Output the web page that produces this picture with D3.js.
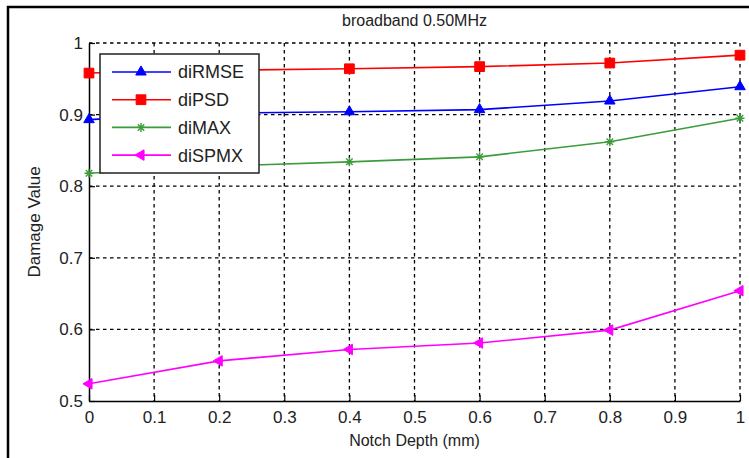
<!DOCTYPE html>
<html>
<head>
<meta charset="utf-8">
<script src="https://cdn.jsdelivr.net/npm/d3@7"></script>
<style>
  body { margin: 0; background: #fff; }
  text { font-family: "Liberation Sans", Arial, sans-serif; fill: #222; }
</style>
</head>
<body>
<div id="chart"></div>
<script>
// data
var depth = [0, 0.2, 0.4, 0.6, 0.8, 1];
var diRMSE = [0.893, 0.902, 0.904, 0.907, 0.919, 0.939];
var diPSD = [0.958, 0.962, 0.964, 0.967, 0.972, 0.983];
var diMAX = [0.818, 0.828, 0.834, 0.841, 0.862, 0.895];
var diSPMX = [0.524, 0.556, 0.572, 0.581, 0.599, 0.654];
var seriesNames = ["diRMSE", "diPSD", "diMAX", "diSPMX"];
var xTicks = [0, 0.1, 0.2, 0.3, 0.4, 0.5, 0.6, 0.7, 0.8, 0.9, 1];
var yTicks = [0.5, 0.6, 0.7, 0.8, 0.9, 1];

var series = [
  {name: seriesNames[0], values: diRMSE, color: "#0000ff", marker: "triUp"},
  {name: seriesNames[1], values: diPSD, color: "#ff0000", marker: "square"},
  {name: seriesNames[2], values: diMAX, color: "#3c9c3c", marker: "star"},
  {name: seriesNames[3], values: diSPMX, color: "#ff00ff", marker: "triLeft"}
];

var W = 749, H = 458;
var margin = {top: 43, right: 9, bottom: 57, left: 89},
    width = W - margin.left - margin.right,
    height = H - margin.top - margin.bottom;

var root = d3.select("#chart").append("svg")
  .attr("width", W).attr("height", H);

// outer frame (left + top edges visible)
root.append("path")
  .attr("d", "M8,458 L8,7 L749,7")
  .attr("fill", "none").attr("stroke", "#000").attr("stroke-width", 2.5);

var svg = root.append("g")
  .attr("transform", "translate(" + margin.left + "," + margin.top + ")");

var x = d3.scaleLinear().domain([0, 1]).range([0, width]);
var y = d3.scaleLinear().domain([0.5, 1]).range([height, 0]);

// grid
svg.append("g").selectAll("line").data(xTicks.slice(1)).enter().append("line")
  .attr("x1", function(d) { return x(d); }).attr("x2", function(d) { return x(d); })
  .attr("y1", 0).attr("y2", height)
  .attr("stroke", "#000").attr("stroke-width", 1.3).attr("stroke-dasharray", "3.5,3.5");
svg.append("g").selectAll("line").data(yTicks.slice(1)).enter().append("line")
  .attr("y1", function(d) { return y(d); }).attr("y2", function(d) { return y(d); })
  .attr("x1", 0).attr("x2", width)
  .attr("stroke", "#000").attr("stroke-width", 1.3).attr("stroke-dasharray", "3.5,3.5");

var fmt = function(d) { return d3.format("~g")(d); };

// axes
var xAxis = svg.append("g")
  .attr("transform", "translate(0," + height + ")")
  .call(d3.axisBottom(x).tickValues(xTicks).tickFormat(fmt).tickSizeInner(-6).tickSizeOuter(0).tickPadding(10));
var yAxis = svg.append("g")
  .call(d3.axisLeft(y).tickValues(yTicks).tickFormat(fmt).tickSizeInner(-6).tickSizeOuter(0).tickPadding(6));
[xAxis, yAxis].forEach(function(a) {
  a.select(".domain").attr("stroke", "#000").attr("stroke-width", 1.5);
  a.selectAll(".tick line").attr("stroke", "#000").attr("stroke-width", 1.2);
  a.selectAll(".tick text").style("font-size", "17px").attr("fill", "#222")
    .style("font-family", "'Liberation Sans', Arial, sans-serif");
});

// marker shapes
function markerPath(type) {
  if (type === "triUp") return d3.symbol(d3.symbolTriangle, 48)();
  if (type === "square") return d3.symbol(d3.symbolSquare, 95)();
  if (type === "triLeft") return d3.symbol(d3.symbolTriangle, 48)();
  var r = 4.5, q = r * 0.72;
  return "M" + (-r) + ",0L" + r + ",0M0," + (-r) + "L0," + r +
    "M" + (-q) + "," + (-q) + "L" + q + "," + q + "M" + (-q) + "," + q + "L" + q + "," + (-q);
}
function drawMarker(g, type, color) {
  var p = g.append("path").attr("d", markerPath(type));
  if (type === "star") {
    p.attr("fill", "none").attr("stroke", color).attr("stroke-width", 1.4);
  } else {
    p.attr("fill", color).attr("stroke", color).attr("stroke-width", 1);
  }
  if (type === "triLeft") p.attr("transform", "rotate(-90)");
  return p;
}

var line = d3.line()
  .x(function(d, i) { return x(depth[i]); })
  .y(function(d) { return y(d); });

series.forEach(function(s) {
  svg.append("path").datum(s.values)
    .attr("d", line)
    .attr("fill", "none").attr("stroke", s.color).attr("stroke-width", 1.6);
  s.values.forEach(function(v, i) {
    var g = svg.append("g").attr("transform", "translate(" + x(depth[i]) + "," + y(v) + ")");
    drawMarker(g, s.marker, s.color);
  });
});

// legend
var lg = svg.append("g").attr("transform", "translate(11,11)");
lg.append("rect").attr("x", 0).attr("y", 0).attr("width", 159).attr("height", 119)
  .attr("fill", "#fff").attr("stroke", "#222").attr("stroke-width", 1.5);
series.forEach(function(s, i) {
  var ly = 18 + i * 27.7;
  lg.append("line").attr("x1", 12).attr("x2", 71).attr("y1", ly).attr("y2", ly)
    .attr("stroke", s.color).attr("stroke-width", 1.6);
  drawMarker(lg.append("g").attr("transform", "translate(41," + ly + ")"), s.marker, s.color);
  lg.append("text").attr("x", 78).attr("y", ly).attr("dy", "0.36em")
    .style("font-size", "18px").text(s.name);
});

// title and axis labels
root.append("text").attr("x", margin.left + width / 2).attr("y", 26)
  .attr("text-anchor", "middle").style("font-size", "16px").text("broadband 0.50MHz");
root.append("text").attr("x", margin.left + width / 2).attr("y", 446)
  .attr("text-anchor", "middle").style("font-size", "16px").text("Notch Depth (mm)");
root.append("text")
  .attr("transform", "translate(40," + (margin.top + height / 2) + ") rotate(-90)")
  .attr("text-anchor", "middle").style("font-size", "17px").text("Damage Value");
</script>
</body>
</html>
